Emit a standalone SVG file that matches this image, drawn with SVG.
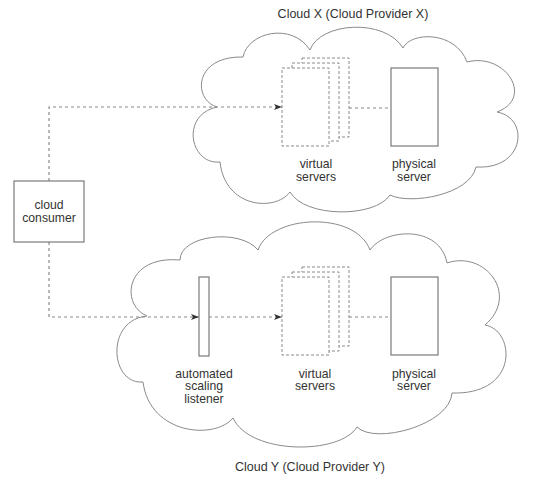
<svg xmlns="http://www.w3.org/2000/svg" width="549" height="480" viewBox="0 0 549 480">
<style>
  .cloud { fill: #fff; stroke: #8a8a8a; stroke-width: 1; }
  .box { fill: #fff; stroke: #7a7a7a; stroke-width: 1.2; }
  .vbox { fill: #fff; stroke: #8a8a8a; stroke-width: 1; stroke-dasharray: 3 2; }
  .conn { fill: none; stroke: #8a8a8a; stroke-width: 1.2; stroke-dasharray: 3 3; }
  text { font-family: "Liberation Sans", Arial, sans-serif; font-size: 12.2px; fill: #333; text-anchor: middle; }
  .title { font-size: 12.5px; }
</style>
<defs>
  <marker id="arr" viewBox="0 0 8 6" refX="8" refY="3" markerWidth="8" markerHeight="6" markerUnits="userSpaceOnUse" orient="auto">
    <path d="M0,0 L8,3 L0,6 L2,3 Z" fill="#333"/>
  </marker>
</defs>
<rect width="549" height="480" fill="#fff"/>

<g id="cloud-x">
  <path class="cloud" d="M217,107 C193,100 193,56 243,57 C248,32 292,22 310,50 C320,22 385,18 403,48 C410,32 455,30 467,62 C505,52 535,98 497,112 C530,118 525,170 476,167 C470,195 410,205 390,195 C375,218 305,218 290,192 C275,212 225,208 220,162 C190,165 180,115 217,107 Z"/>
  <text class="title" x="353" y="18">Cloud X (Cloud Provider X)</text>
</g>

<g id="cloud-y">
  <path class="cloud" d="M147,316 C120,305 125,255 180,260 C180,235 240,228 258,250 C270,215 355,210 370,250 C385,228 440,225 447,263 C485,250 520,295 485,325 C515,330 520,395 452,393 C450,425 375,445 357,427 C340,455 250,455 233,418 C215,440 150,435 143,382 C110,385 105,320 147,316 Z"/>
  <text class="title" x="310" y="471">Cloud Y (Cloud Provider Y)</text>
</g>

<g id="connectors">
  <path class="conn" d="M49,181 V107 H282" marker-end="url(#arr)"/>
  <path class="conn" d="M349,108 H391"/>
  <path class="conn" d="M49,242 V317 H199" marker-end="url(#arr)"/>
  <path class="conn" d="M209,317 H282" marker-end="url(#arr)"/>
  <path class="conn" d="M349,317 H391"/>
</g>

<g id="cloud-consumer">
  <rect class="box" x="14" y="181" width="70" height="61"/>
  <text x="49" y="208.5">cloud</text>
  <text x="49" y="221.5">consumer</text>
</g>

<g id="virtual-servers-x">
  <rect class="vbox" x="302" y="58" width="47" height="79"/>
  <rect class="vbox" x="292" y="63" width="47" height="78"/>
  <rect class="vbox" x="282" y="68" width="47" height="78"/>
  <text x="316" y="167.5">virtual</text>
  <text x="316" y="180.5">servers</text>
</g>

<g id="physical-server-x">
  <rect class="box" x="391" y="68" width="47" height="78"/>
  <text x="414" y="167.5">physical</text>
  <text x="414" y="180.5">server</text>
</g>

<g id="automated-scaling-listener">
  <rect class="box" x="199" y="277" width="10" height="79"/>
  <text x="204" y="377.5">automated</text>
  <text x="204" y="390">scaling</text>
  <text x="204" y="402.5">listener</text>
</g>

<g id="virtual-servers-y">
  <rect class="vbox" x="302" y="267" width="47" height="79"/>
  <rect class="vbox" x="292" y="272" width="47" height="79"/>
  <rect class="vbox" x="282" y="277" width="47" height="78"/>
  <text x="315" y="377.5">virtual</text>
  <text x="315" y="390">servers</text>
</g>

<g id="physical-server-y">
  <rect class="box" x="391" y="277" width="47" height="78"/>
  <text x="414" y="377.5">physical</text>
  <text x="414" y="390">server</text>
</g>
</svg>
